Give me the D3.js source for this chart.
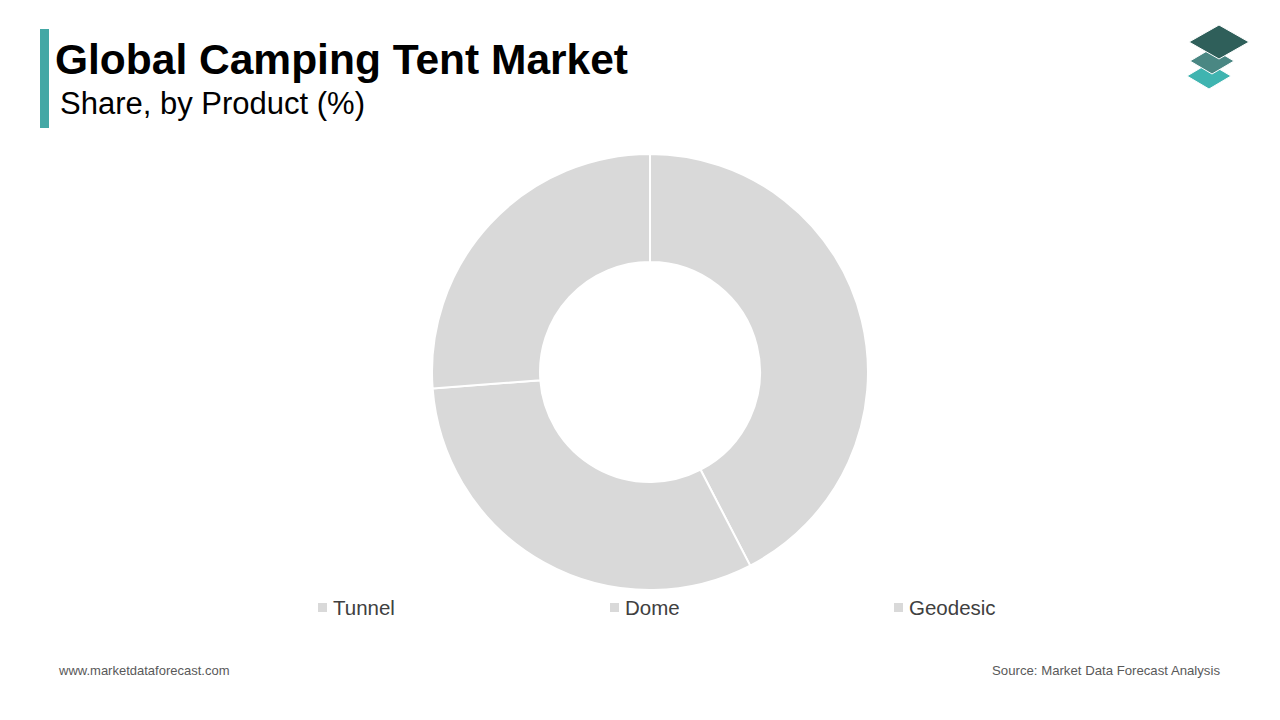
<!DOCTYPE html>
<html><head><meta charset="utf-8">
<script src="https://cdn.jsdelivr.net/npm/d3@7"></script>
<style>body{margin:0;background:#fff;font-family:Arial,"Liberation Sans",sans-serif}</style>
</head><body><svg id="c" width="1280" height="720"></svg>
<script>
const categories = ["Tunnel","Dome","Geodesic"];
const values = [42.4, 31.4, 26.2];
const legendX = [318, 610, 894];

const svg = d3.select("#c");
svg.append("rect").attr("x",40).attr("y",29).attr("width",9).attr("height",99).attr("fill","#44a8a5");
svg.append("text").attr("x",55).attr("y",74).attr("font-size",42.5).attr("font-weight","bold").attr("fill","#000").text("Global Camping Tent Market");
svg.append("text").attr("x",60).attr("y",114).attr("font-size",31).attr("fill","#000").text("Share, by Product (%)");

const logo = svg.append("g");
[[1209,76,"#3fb4b0"],[1212,61,"#4a8783"],[1219,42,"#2f5f5a"]].forEach(([cx,cy,c],i)=>{
  const w = i==2?30:22, h=i==2?17:13;
  logo.append("path").attr("d",`M${cx-w},${cy} L${cx},${cy-h} L${cx+w},${cy} L${cx},${cy+h} Z`).attr("fill",c).attr("stroke","#fff").attr("stroke-width",1);
});

const pie = d3.pie().sort(null).value(d=>d);
const arc = d3.arc().innerRadius(110).outerRadius(218);
svg.append("g").attr("transform","translate(650,372)")
  .selectAll("path").data(pie(values)).join("path")
  .attr("d",arc).attr("fill","#d9d9d9").attr("stroke","#fff").attr("stroke-width",2);

const lg = svg.append("g");
categories.forEach((c,i)=>{
  lg.append("rect").attr("x",legendX[i]).attr("y",603).attr("width",9).attr("height",9).attr("fill","#d9d9d9");
  lg.append("text").attr("x",legendX[i]+15).attr("y",615).attr("font-size",20.5).attr("fill","#404040").text(c);
});
svg.append("text").attr("x",59).attr("y",675).attr("font-size",13).attr("fill","#595959").text("www.marketdataforecast.com");
svg.append("text").attr("x",1220).attr("y",675).attr("font-size",13.2).attr("fill","#595959").attr("text-anchor","end").text("Source: Market Data Forecast Analysis");
</script></body></html>
